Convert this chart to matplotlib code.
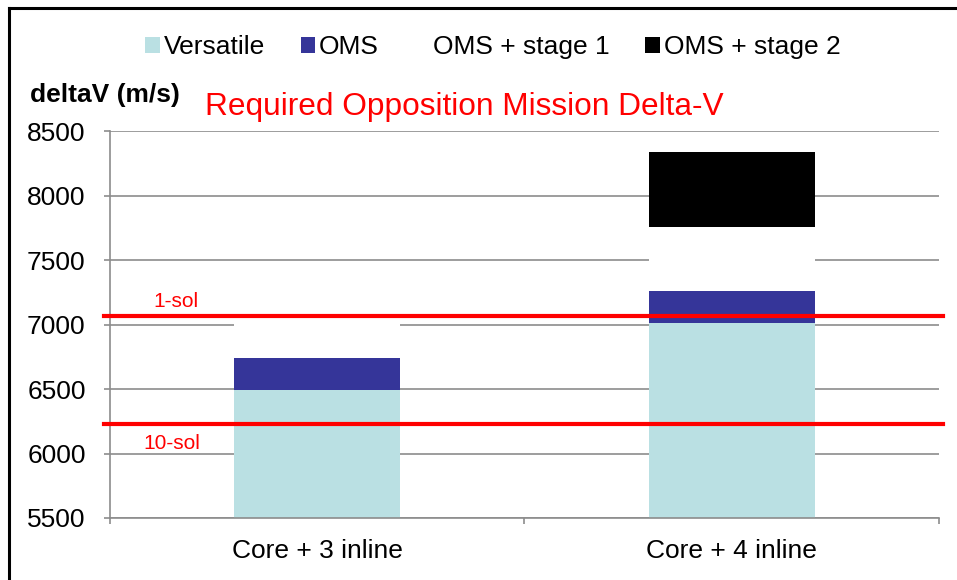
import numpy as np
import matplotlib.pyplot as plt
from matplotlib.lines import Line2D

categories = ["Core + 3 inline", "Core + 4 inline"]
series_names = ["Versatile", "OMS", "OMS + stage 1", "OMS + stage 2"]
versatile = [6490, 7014]
oms = [248, 246]
stage1 = [500, 498]
stage2 = [0, 579]
sol_levels = [7066, 6229]
sol_labels = ["1-sol", "10-sol"]

colors = ["#BAE0E3", "#353599", "#FFFFFF", "#000000"]

plt.rcParams['font.family'] = ['Liberation Sans', 'DejaVu Sans']

fig = plt.figure(figsize=(9.57, 5.80), dpi=100)
ax = fig.add_axes([0.1149, 0.1069, 0.8663, 0.6672])

x = np.arange(len(categories))
width = 0.4
bottom = np.zeros(len(categories))
handles = []
for name, vals, c in zip(series_names, [versatile, oms, stage1, stage2], colors):
    b = ax.bar(x, vals, width, bottom=bottom, color=c, label=name, zorder=2)
    handles.append(b)
    bottom += np.array(vals)

ax.set_xlim(-0.5, 1.5)
ax.set_ylim(5500, 8500)
ax.set_yticks(np.arange(5500, 8501, 500))
ax.set_xticks(x)
ax.set_xticklabels(categories)
ax.set_xticks([-0.5, 0.5, 1.5], minor=True)

grey = "#8c8c8c"
ax.grid(axis='y', color=grey, linewidth=1.2)
ax.set_axisbelow(True)
for s in ['top', 'right']:
    ax.spines[s].set_visible(False)
for s in ['left', 'bottom']:
    ax.spines[s].set_color(grey)
    ax.spines[s].set_linewidth(1.2)
ax.tick_params(axis='y', length=4.5, width=1.2, color=grey, labelsize=19, pad=13)
ax.tick_params(axis='x', which='major', length=0, labelsize=19, pad=15)
ax.tick_params(axis='x', which='minor', length=4.5, width=1.2, color=grey)

# required delta-v lines
for lvl in sol_levels:
    ax.plot([-0.515, 1.51], [lvl, lvl], color='red', linewidth=3, zorder=4, clip_on=False)
ax.text(-0.396, 7105, sol_labels[0], color='red', fontsize=15, va='bottom', ha='left')
ax.text(-0.42, 6150, sol_labels[1], color='red', fontsize=15, va='top', ha='left')

fig.text(30 / 957, 1 - 95 / 580, "deltaV (m/s)", fontsize=19, fontweight='bold', va='center', ha='left')
fig.text(205 / 957, 1 - 107 / 580, "Required Opposition Mission Delta-V", fontsize=22.8,
         color='red', va='center', ha='left')

fig.legend(handles=handles, labels=series_names, loc='center', ncol=4,
           bbox_to_anchor=(493 / 957, 1 - 47 / 580), frameon=False, fontsize=19,
           handlelength=0.55, handleheight=0.55, handletextpad=0.15, columnspacing=1.35)

# outer frame (left and top edges)
fig.add_artist(Line2D([9 / 957, 9 / 957], [0, 1 - 8 / 580], color='black', linewidth=2.2))
fig.add_artist(Line2D([9 / 957, 1], [1 - 8 / 580, 1 - 8 / 580], color='black', linewidth=2.2))

fig.savefig("out.png", dpi=100)
